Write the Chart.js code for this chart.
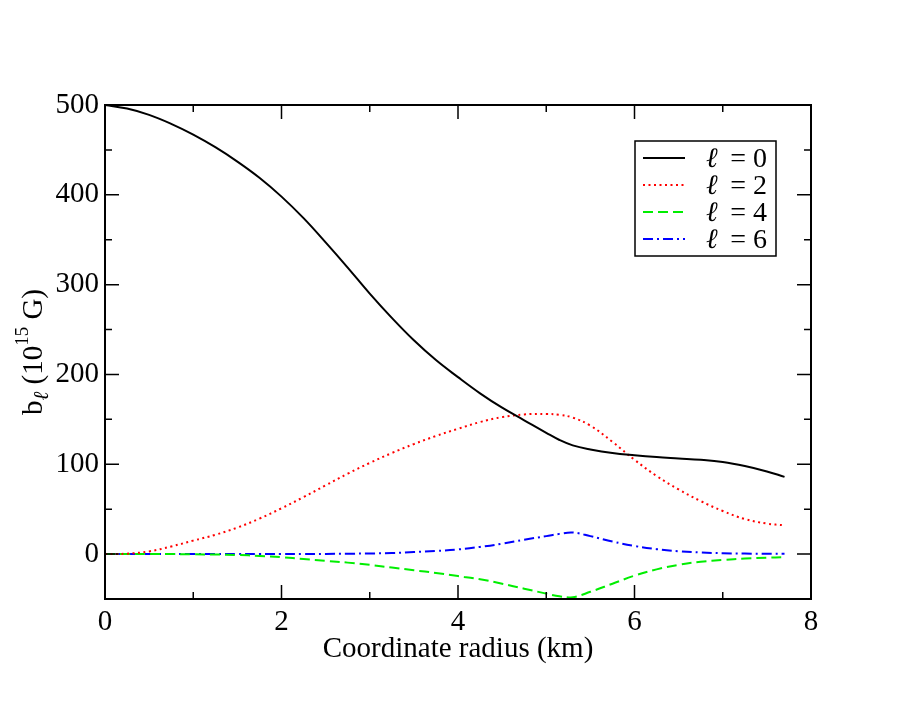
<!DOCTYPE html>
<html>
<head>
<meta charset="utf-8">
<script src="https://cdn.jsdelivr.net/npm/chart.js@4.4.1/dist/chart.umd.min.js"></script>
<style>
  html, body { margin: 0; padding: 0; background: #fff; }
  #wrap { width: 913px; height: 706px; }
</style>
</head>
<body>
<div id="wrap"><canvas id="grafico" width="913" height="706"></canvas></div>
<script>
// Raio coordenado (km)
const radius = [0, 0.25, 0.5, 0.75, 1.0, 1.25, 1.5, 1.75, 2.0, 2.25, 2.5, 2.75, 3.0, 3.25, 3.5, 3.75,
                4.0, 4.25, 4.5, 4.75, 5.0, 5.15, 5.3, 5.5, 5.75, 6.0, 6.25, 6.5, 6.75, 7.0, 7.25, 7.5, 7.7];

// b_l (10^15 G) para cada l
const b0 = [500, 496, 489, 479, 467, 453, 437, 419, 398, 374, 347, 319, 290, 263, 238, 216,
            197, 179, 163, 149, 135, 127, 121, 116.5, 112.5, 110, 108, 106.5, 105, 102.5, 98, 92, 86];
const b2 = [0, 0.5, 3, 8.5, 15, 21.5, 29.5, 39.5, 51, 63.5, 76.5, 89.5, 101.5, 112.5, 122.5, 131.5,
            139.5, 147, 152.5, 155.5, 156, 155, 152, 143, 125, 105, 87, 72, 59, 48, 39, 34, 32];
const b4 = [0, 0, 0, 0, -0.2, -0.5, -1, -2, -3.5, -5.5, -7.5, -9.5, -12, -15, -18, -21,
            -24.5, -28, -33, -38.5, -44, -47, -48, -42, -33, -24, -17, -12, -8.5, -6.5, -5, -4, -3.5];
const b6 = [0, 0, 0, 0, 0, 0, 0, 0, 0, 0.1, 0.2, 0.4, 0.7, 1.2, 2.2, 3.5,
            5.2, 8, 11.5, 16, 20, 22.5, 24, 20, 14, 9, 5.5, 3.2, 1.8, 1.0, 0.6, 0.4, 0.3];

const legendLabels = ['ℓ = 0', 'ℓ = 2', 'ℓ = 4', 'ℓ = 6'];
const xTicks = [0, 2, 4, 6, 8];
const xMinor = [1, 3, 5, 7];
const yTicks = [0, 100, 200, 300, 400, 500];
const yMinor = [-50, 50, 150, 250, 350, 450];

const serif = '"Liberation Serif", "DejaVu Serif", serif';

function pontos(valores) {
    return radius.map((r, i) => ({ x: r, y: valores[i] }));
}

function serie(label, valores, cor, dash) {
    return {
        label: label,
        data: pontos(valores),
        borderColor: cor,
        borderWidth: 2,
        borderDash: dash,
        pointRadius: 0,
        fill: false,
        tension: 0.4
    };
}

// Moldura, marcas internas, títulos e legenda
const molduraPlugin = {
    id: 'moldura',
    afterDraw(chart) {
        const ctx = chart.ctx;
        const a = chart.chartArea;
        const sx = chart.scales.x, sy = chart.scales.y;
        ctx.save();
        ctx.strokeStyle = '#000';
        ctx.lineWidth = 2;
        ctx.setLineDash([]);
        ctx.strokeRect(a.left, a.top, a.right - a.left, a.bottom - a.top);

        ctx.lineWidth = 1.5;
        ctx.beginPath();
        const marcaX = (v, len) => {
            const px = sx.getPixelForValue(v);
            ctx.moveTo(px, a.bottom); ctx.lineTo(px, a.bottom - len);
            ctx.moveTo(px, a.top); ctx.lineTo(px, a.top + len);
        };
        const marcaY = (v, len) => {
            const py = sy.getPixelForValue(v);
            ctx.moveTo(a.left, py); ctx.lineTo(a.left + len, py);
            ctx.moveTo(a.right, py); ctx.lineTo(a.right - len, py);
        };
        xTicks.forEach(v => marcaX(v, 14));
        xMinor.forEach(v => marcaX(v, 7));
        yTicks.forEach(v => marcaY(v, 14));
        yMinor.forEach(v => marcaY(v, 7));
        ctx.stroke();

        // título do eixo x
        ctx.fillStyle = '#000';
        ctx.font = '29px ' + serif;
        ctx.textAlign = 'center';
        ctx.textBaseline = 'alphabetic';
        ctx.fillText('Coordinate radius (km)', (a.left + a.right) / 2, 657);

        // título do eixo y com subscrito e sobrescrito
        const partes = [
            { t: 'b', f: '29px ', dy: 0 },
            { t: 'ℓ', f: 'italic 21px ', dy: 6 },
            { t: ' (10', f: '29px ', dy: 0 },
            { t: '15', f: '19px ', dy: -14 },
            { t: ' G)', f: '29px ', dy: 0 }
        ];
        ctx.translate(42, (a.top + a.bottom) / 2);
        ctx.rotate(-Math.PI / 2);
        ctx.textAlign = 'left';
        let total = 0;
        partes.forEach(p => { ctx.font = p.f + serif; p.w = ctx.measureText(p.t).width; total += p.w; });
        let cx = -total / 2;
        partes.forEach(p => {
            ctx.font = p.f + serif;
            ctx.fillText(p.t, cx, p.dy);
            cx += p.w;
        });
        ctx.restore();

        // legenda
        ctx.save();
        const bx = 635, by = 141, bw = 141, bh = 115;
        ctx.fillStyle = '#fff';
        ctx.fillRect(bx, by, bw, bh);
        ctx.strokeStyle = '#000';
        ctx.lineWidth = 1.5;
        ctx.strokeRect(bx, by, bw, bh);
        chart.data.datasets.forEach((ds, i) => {
            const ly = 158 + i * 27;
            ctx.strokeStyle = ds.borderColor;
            ctx.lineWidth = 2;
            ctx.setLineDash(ds.borderDash || []);
            ctx.beginPath();
            ctx.moveTo(643, ly);
            ctx.lineTo(685, ly);
            ctx.stroke();
            ctx.setLineDash([]);
            ctx.fillStyle = '#000';
            ctx.textBaseline = 'alphabetic';
            const texto = legendLabels[i];
            ctx.font = '28px ' + serif;
            ctx.textAlign = 'right';
            ctx.fillText(texto.slice(1), 767, ly + 9);
            ctx.font = 'italic 28px ' + serif;
            ctx.textAlign = 'left';
            ctx.fillText(texto.charAt(0), 706, ly + 9);
        });
        ctx.restore();
    }
};

const config = {
    type: 'line',
    data: {
        datasets: [
            serie(legendLabels[0], b0, '#000000', []),
            serie(legendLabels[1], b2, '#ff0000', [2, 3.5]),
            serie(legendLabels[2], b4, '#00ee00', [10, 5]),
            serie(legendLabels[3], b6, '#0000ff', [10, 4, 2, 4])
        ]
    },
    options: {
        responsive: false,
        animation: false,
        layout: { padding: { top: 105, right: 102, left: 0, bottom: 0 } },
        plugins: {
            legend: { display: false },
            tooltip: { enabled: false }
        },
        scales: {
            x: {
                type: 'linear',
                min: 0,
                max: 8,
                afterBuildTicks: s => { s.ticks = xTicks.map(v => ({ value: v })); },
                afterFit: s => { s.height = 107; },
                grid: { display: false, drawTicks: false },
                border: { display: false },
                ticks: {
                    color: '#000',
                    font: { family: serif, size: 29 },
                    padding: 6,
                    maxRotation: 0
                }
            },
            y: {
                type: 'linear',
                min: -50,
                max: 500,
                afterBuildTicks: s => { s.ticks = yTicks.map(v => ({ value: v })); },
                afterFit: s => { s.width = 105; },
                grid: { display: false, drawTicks: false },
                border: { display: false },
                ticks: {
                    color: '#000',
                    font: { family: serif, size: 29 },
                    padding: 6
                }
            }
        }
    },
    plugins: [molduraPlugin]
};

const ctx = document.getElementById('grafico').getContext('2d');
const grafico = new Chart(ctx, config);
</script>
</body>
</html>
